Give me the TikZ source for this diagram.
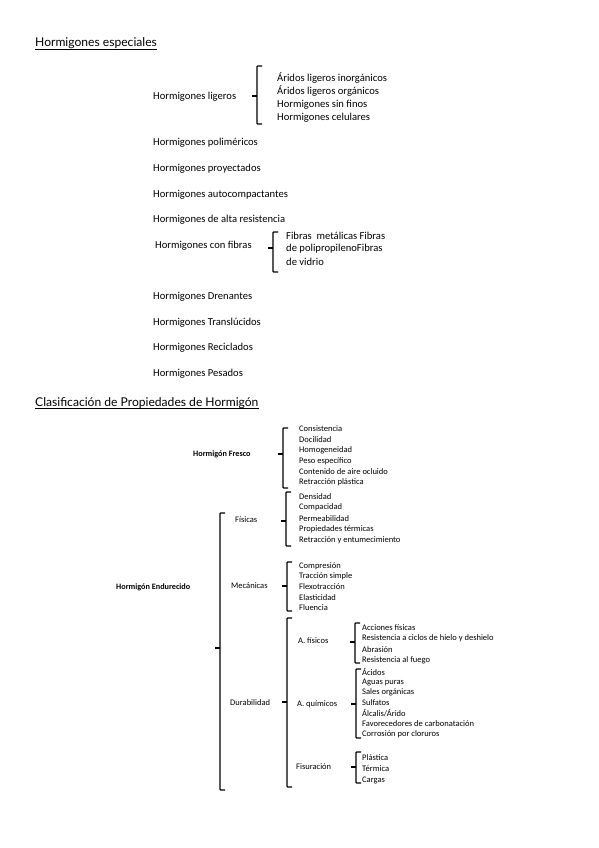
\documentclass[tikz,border=0pt]{standalone}
\usepackage{fontspec}
\setmainfont{Carlito}
\newfontfamily\titulo{Lato}
\usetikzlibrary{positioning}

% llave: x, arriba, abajo, centro
\newcommand{\llave}[4]{%
\draw[llave] (#1+5,#2) -- (#1,#2) -- (#1,#3) -- (#1+5,#3);
\draw[llave] (#1,#4) -- (#1-5,#4);
}

\tikzset{
  titulo/.style={anchor=base west,inner sep=0pt,font=\titulo\fontsize{12.1}{13}\selectfont},
  grande/.style={anchor=west,inner sep=0pt,font=\fontsize{10.6}{11}\selectfont},
  chico/.style={anchor=west,inner sep=0pt,font=\fontsize{8.5}{9}\selectfont},
  negrita/.style={chico,font=\fontsize{8.2}{9}\selectfont\bfseries},
  llave/.style={line width=1.2pt,rounded corners=0.8pt},
  subrayado/.style={line width=0.5pt}
}

\begin{document}
\begin{tikzpicture}[x=1pt,y=-1pt]
\useasboundingbox (0,0) rectangle (599,848);

% Hormigones especiales
\node[titulo] (t1) at (35,47) {Hormigones especiales};
\draw[subrayado] ([yshift=-2pt]t1.base west) -- ([yshift=-2pt]t1.base east);

\node[grande] (ligeros) at (153,97) {Hormigones ligeros};
\llave{257}{66}{124}{96}
\foreach \t [count=\i] in {Áridos ligeros inorgánicos,Áridos ligeros orgánicos,Hormigones sin finos,Hormigones celulares}
  \node[grande] (lig\i) at (277,{78+13.4*(\i-1)}) {\t};

\node[grande] (polim) at (153,143) {Hormigones poliméricos};
\node[grande] (proy) at (153,169) {Hormigones proyectados};
\node[grande] (auto) at (153,195) {Hormigones autocompactantes};
\node[grande] (alta) at (153,220) {Hormigones de alta resistencia};
\node[grande] (fibras) at (155,246) {Hormigones con fibras};
\llave{273}{232}{272}{248}
\foreach \t [count=\i] in {Fibras\ \ metálicas Fibras,de polipropilenoFibras,de vidrio}
  \node[grande] (fib\i) at (286,{236+13*(\i-1)}) {\t};

\node[grande] (dren) at (153,297) {Hormigones Drenantes};
\node[grande] (trans) at (153,323) {Hormigones Translúcidos};
\node[grande] (recic) at (153,348) {Hormigones Reciclados};
\node[grande] (pes) at (153,374) {Hormigones Pesados};

% Clasificacion
\node[titulo] (t2) at (35,406) {Clasificación de Propiedades de Hormigón};
\draw[subrayado] ([yshift=-2pt]t2.base west) -- ([yshift=-2pt]t2.base east);

\node[negrita] (fresco) at (193,454) {Hormigón Fresco};
\llave{283}{428}{488}{454}
\foreach \t [count=\i] in {Consistencia,Docilidad,Homogeneidad,Peso específico,Contenido de aire ocluido,Retracción plástica}
  \node[chico] (fr\i) at (299,{429+10.6*(\i-1)}) {\t};

\node[negrita] (endur) at (116,587) {Hormigón Endurecido};
\llave{220}{513}{790}{648}

\node[chico] (fisicas) at (235,520) {Físicas};
\llave{286}{492}{546}{521}
\foreach \t [count=\i] in {Densidad,Compacidad,Permeabilidad,Propiedades térmicas,Retracción y entumecimiento}
  \node[chico] (fi\i) at (299,{497+10.7*(\i-1)}) {\t};

\node[chico] (mec) at (231,586) {Mecánicas};
\llave{287}{562}{611}{586}
\foreach \t [count=\i] in {Compresión,Tracción simple,Flexotracción,Elasticidad,Fluencia}
  \node[chico] (me\i) at (299,{566+10.4*(\i-1)}) {\t};

\node[chico] (dur) at (230,703) {Durabilidad};
\llave{287}{618}{787}{702}

\node[chico] (afis) at (298,641) {A. físicos};
\llave{355}{623}{663}{642}
\foreach \t [count=\i] in {Acciones físicas,Resistencia a ciclos de hielo y deshielo,Abrasión,Resistencia al fuego}
  \node[chico] (af\i) at (362,{628+10.6*(\i-1)}) {\t};

\node[chico] (aqui) at (297,704) {A. químicos};
\llave{356}{669}{738}{704}
\foreach \t [count=\i] in {Ácidos,Aguas puras,Sales orgánicas,Sulfatos,Álcalis/Árido,Favorecedores de carbonatación,Corrosión por cloruros}
  \node[chico] (aq\i) at (362,{672+10.3*(\i-1)}) {\t};

\node[chico] (fisur) at (296,767) {Fisuración};
\llave{356}{752}{783}{767}
\foreach \t [count=\i] in {Plástica,Térmica,Cargas}
  \node[chico] (fs\i) at (362,{758+11*(\i-1)}) {\t};
\end{tikzpicture}
\end{document}
